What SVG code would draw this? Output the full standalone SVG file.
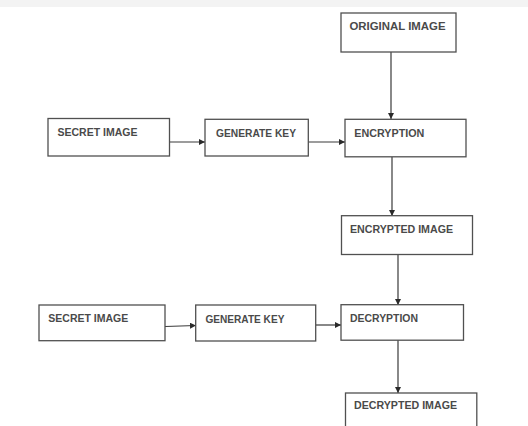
<svg xmlns="http://www.w3.org/2000/svg" width="528" height="426" viewBox="0 0 528 426">
<style>
.box{fill:#fff;stroke:#505050;stroke-width:1.3}
.lbl{font-family:"Liberation Sans",Arial,sans-serif;font-weight:bold;font-size:11px;fill:#4a4a4a}
.conn{stroke:#3a3a3a;stroke-width:1.2;fill:none;marker-end:url(#ah)}
</style>
<defs>
<marker id="ah" viewBox="0 0 10 10" refX="10" refY="5" markerWidth="6" markerHeight="6" markerUnits="userSpaceOnUse" orient="auto">
<path d="M0,0 L10,5 L0,10 Z" fill="#2a2a2a"/>
</marker>
</defs>
<rect x="0" y="0" width="528" height="426" fill="#fff"/>
<rect x="0" y="0" width="528" height="7" fill="#f3f3f3"/>
<g id="connectors">
<line class="conn" x1="391" y1="52" x2="391" y2="119"/>
<line class="conn" x1="170" y1="142" x2="205" y2="142"/>
<line class="conn" x1="308" y1="142" x2="345" y2="142"/>
<line class="conn" x1="392" y1="157" x2="392" y2="216"/>
<line class="conn" x1="398" y1="255" x2="398" y2="305"/>
<line class="conn" x1="165" y1="326.5" x2="196" y2="325.5"/>
<line class="conn" x1="315.5" y1="325" x2="341" y2="325"/>
<line class="conn" x1="398" y1="340" x2="398" y2="393"/>
</g>
<g id="original-image">
<rect class="box" x="341" y="13" width="115" height="39"/>
<text class="lbl" x="349.5" y="30" textLength="96" lengthAdjust="spacingAndGlyphs">ORIGINAL IMAGE</text>
</g>
<g id="secret-image-1">
<rect class="box" x="48" y="118.5" width="121.5" height="37.5"/>
<text class="lbl" x="57.5" y="135.7" textLength="80" lengthAdjust="spacingAndGlyphs">SECRET IMAGE</text>
</g>
<g id="generate-key-1">
<rect class="box" x="205" y="119.3" width="103.3" height="36.7"/>
<text class="lbl" x="216" y="136.5" textLength="80" lengthAdjust="spacingAndGlyphs">GENERATE KEY</text>
</g>
<g id="encryption">
<rect class="box" x="345" y="119.3" width="121" height="37.5"/>
<text class="lbl" x="354.3" y="136.5" textLength="70" lengthAdjust="spacingAndGlyphs">ENCRYPTION</text>
</g>
<g id="encrypted-image">
<rect class="box" x="341.5" y="215.7" width="131" height="38.8"/>
<text class="lbl" x="350" y="232.7" textLength="103" lengthAdjust="spacingAndGlyphs">ENCRYPTED IMAGE</text>
</g>
<g id="secret-image-2">
<rect class="box" x="39" y="305" width="126" height="35.7"/>
<text class="lbl" x="48.3" y="321.7" textLength="80" lengthAdjust="spacingAndGlyphs">SECRET IMAGE</text>
</g>
<g id="generate-key-2">
<rect class="box" x="195.7" y="305" width="120" height="36"/>
<text class="lbl" x="205.4" y="322.5" textLength="79" lengthAdjust="spacingAndGlyphs">GENERATE KEY</text>
</g>
<g id="decryption">
<rect class="box" x="341" y="304.7" width="122.5" height="35.5"/>
<text class="lbl" x="350" y="321.7" textLength="68" lengthAdjust="spacingAndGlyphs">DECRYPTION</text>
</g>
<g id="decrypted-image">
<rect class="box" x="345.5" y="393" width="131.3" height="40"/>
<text class="lbl" x="354" y="409.3" textLength="103" lengthAdjust="spacingAndGlyphs">DECRYPTED IMAGE</text>
</g>
</svg>
